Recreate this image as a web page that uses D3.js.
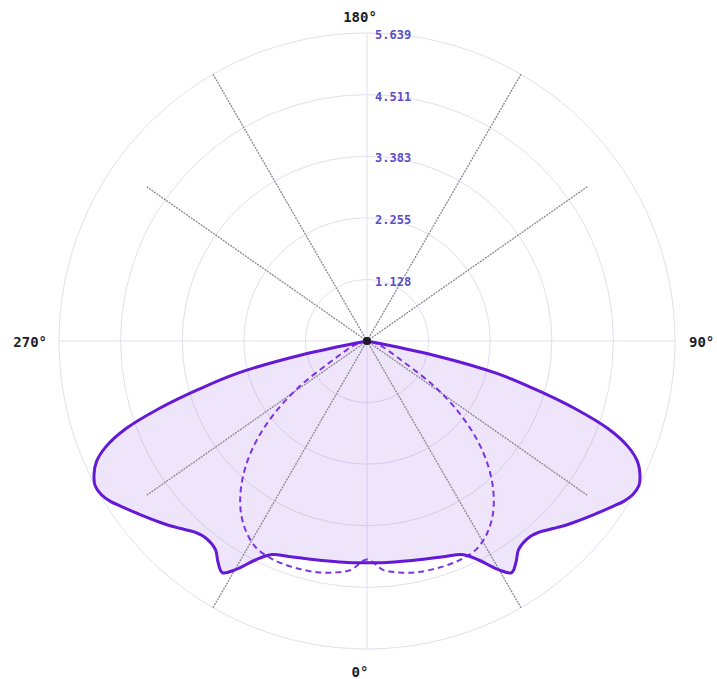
<!DOCTYPE html>
<html>
<head>
<meta charset="utf-8">
<script src="https://cdn.jsdelivr.net/npm/d3@7"></script>
<style>
  body { margin: 0; background: #fff; }
  text { font-family: "DejaVu Sans Mono", monospace; font-weight: bold; }
</style>
</head>
<body>
<div id="chart"></div>
<script>
// pattern data, angle in degrees (0 = bottom, 90 = right)
const solidAngles = [-80, -78, -76, -74, -72, -70, -68, -66, -64, -62, -60, -58, -56, -52, -48, -45, -42, -39, -36, -34, -32, -30, -27, -24, -20, -15, -10, -5,
  0, 5, 10, 15, 20, 24, 27, 30, 32, 34, 36, 39, 42, 45, 48, 52, 56, 58, 60, 62, 64, 66, 68, 70, 72, 74, 76, 78, 80];
const solidValues = [0, 1.25, 2.45, 3.20, 4.00, 4.70, 5.15, 5.42, 5.56, 5.639, 5.62, 5.54, 5.42, 5.20, 5.00, 4.85, 4.71, 4.66, 4.72, 4.88, 5.00, 4.84, 4.50, 4.28, 4.20, 4.13, 4.09, 4.07,
  4.06, 4.07, 4.09, 4.13, 4.20, 4.28, 4.50, 4.84, 5.00, 4.88, 4.72, 4.66, 4.71, 4.85, 5.00, 5.20, 5.42, 5.54, 5.62, 5.639, 5.56, 5.42, 5.15, 4.70, 4.00, 3.20, 2.45, 1.25, 0];

const dashAngles = [-80, -76, -70, -65, -60, -56, -52, -48, -44, -40, -36, -32, -28, -24, -20, -16, -12, -8, -4,
  0, 4, 8, 12, 16, 20, 24, 28, 32, 36, 40, 44, 48, 52, 56, 60, 65, 70, 76, 80];
const dashValues = [0, 0.12, 0.28, 0.45, 0.80, 1.50, 2.15, 2.72, 3.20, 3.60, 3.92, 4.15, 4.30, 4.35, 4.36, 4.35, 4.33, 4.28, 4.20,
  4.00, 4.20, 4.28, 4.33, 4.35, 4.36, 4.35, 4.30, 4.15, 3.92, 3.60, 3.20, 2.72, 2.15, 1.50, 0.80, 0.45, 0.28, 0.12, 0];

// gray reference spokes
const spokeAngles = [30, 55, 125, 150, 210, 235, 305, 330];
const spokeLengths = [5.639, 4.92, 4.92, 5.639, 5.639, 4.92, 4.92, 5.639];

const ringValues = [1.128, 2.255, 3.383, 4.511, 5.639];
const ringLabels = ["1.128", "2.255", "3.383", "4.511", "5.639"];
const axisAngles = [0, 90, 180, 270];
const axisLabels = ["0°", "90°", "180°", "270°"];

const width = 717, height = 679;
const cx = 367, cy = 341, R = 308;

const svg = d3.select("#chart").append("svg")
    .attr("width", width)
    .attr("height", height)
  .append("g")
    .attr("transform", `translate(${cx},${cy})`);

const r = d3.scaleLinear().domain([0, 5.639]).range([0, R]);
// 0 deg at bottom, 90 deg at right
const toRad = d => (180 - d) * Math.PI / 180;
const px = (a, v) => r(v) * Math.sin(toRad(a));
const py = (a, v) => -r(v) * Math.cos(toRad(a));

// grid circles
svg.append("g")
  .selectAll("circle")
  .data(ringValues)
  .join("circle")
    .attr("r", d => r(d))
    .attr("fill", "none")
    .attr("stroke", "#e2dfee")
    .attr("stroke-width", 1);

// axis lines
svg.append("g")
  .selectAll("line")
  .data(axisAngles)
  .join("line")
    .attr("x1", 0).attr("y1", 0)
    .attr("x2", d => px(d, 5.639))
    .attr("y2", d => py(d, 5.639))
    .attr("stroke", "#e2dfee")
    .attr("stroke-width", 1);

const line = d3.lineRadial()
    .angle(d => toRad(d[0]))
    .radius(d => r(d[1]))
    .curve(d3.curveCatmullRom.alpha(0.5));

const solid = d3.zip(solidAngles, solidValues);
const dashed = d3.zip(dashAngles, dashValues);

// filled main pattern
svg.append("path")
    .attr("d", line(solid) + "Z")
    .attr("fill", "#8a4fe6")
    .attr("fill-opacity", 0.15)
    .attr("stroke", "none");

// spokes
svg.append("g")
  .selectAll("line")
  .data(d3.zip(spokeAngles, spokeLengths))
  .join("line")
    .attr("x1", 0).attr("y1", 0)
    .attr("x2", d => px(d[0], d[1]))
    .attr("y2", d => py(d[0], d[1]))
    .attr("stroke", "#8a8796")
    .attr("stroke-width", 1.3)
    .attr("stroke-dasharray", "2,1");

svg.append("path")
    .attr("d", line(dashed))
    .attr("fill", "none")
    .attr("stroke", "#7b35e3")
    .attr("stroke-width", 2)
    .attr("stroke-dasharray", "6,4");

svg.append("path")
    .attr("d", line(solid))
    .attr("fill", "none")
    .attr("stroke", "#6419d6")
    .attr("stroke-width", 3)
    .attr("stroke-linejoin", "round");

svg.append("circle")
    .attr("r", 4)
    .attr("fill", "#1c1a26");

// ring labels
svg.append("g")
  .selectAll("text")
  .data(ringValues)
  .join("text")
    .attr("x", 8)
    .attr("y", d => -r(d) + 2)
    .attr("dy", "0.35em")
    .attr("font-size", 12)
    .attr("fill", "#5b4fc6")
    .text((d, i) => ringLabels[i]);

// angle labels
const labelPos = {
  0:   {x: -7, y: R + 28, anchor: "middle"},
  90:  {x: R + 14, y: 6, anchor: "start"},
  180: {x: -7, y: -R - 11, anchor: "middle"},
  270: {x: -R - 12, y: 6, anchor: "end"}
};
svg.append("g")
  .selectAll("text")
  .data(axisAngles)
  .join("text")
    .attr("x", d => labelPos[d].x)
    .attr("y", d => labelPos[d].y)
    .attr("text-anchor", d => labelPos[d].anchor)
    .attr("font-size", 14)
    .attr("fill", "#1e1c28")
    .text((d, i) => axisLabels[i]);
</script>
</body>
</html>
